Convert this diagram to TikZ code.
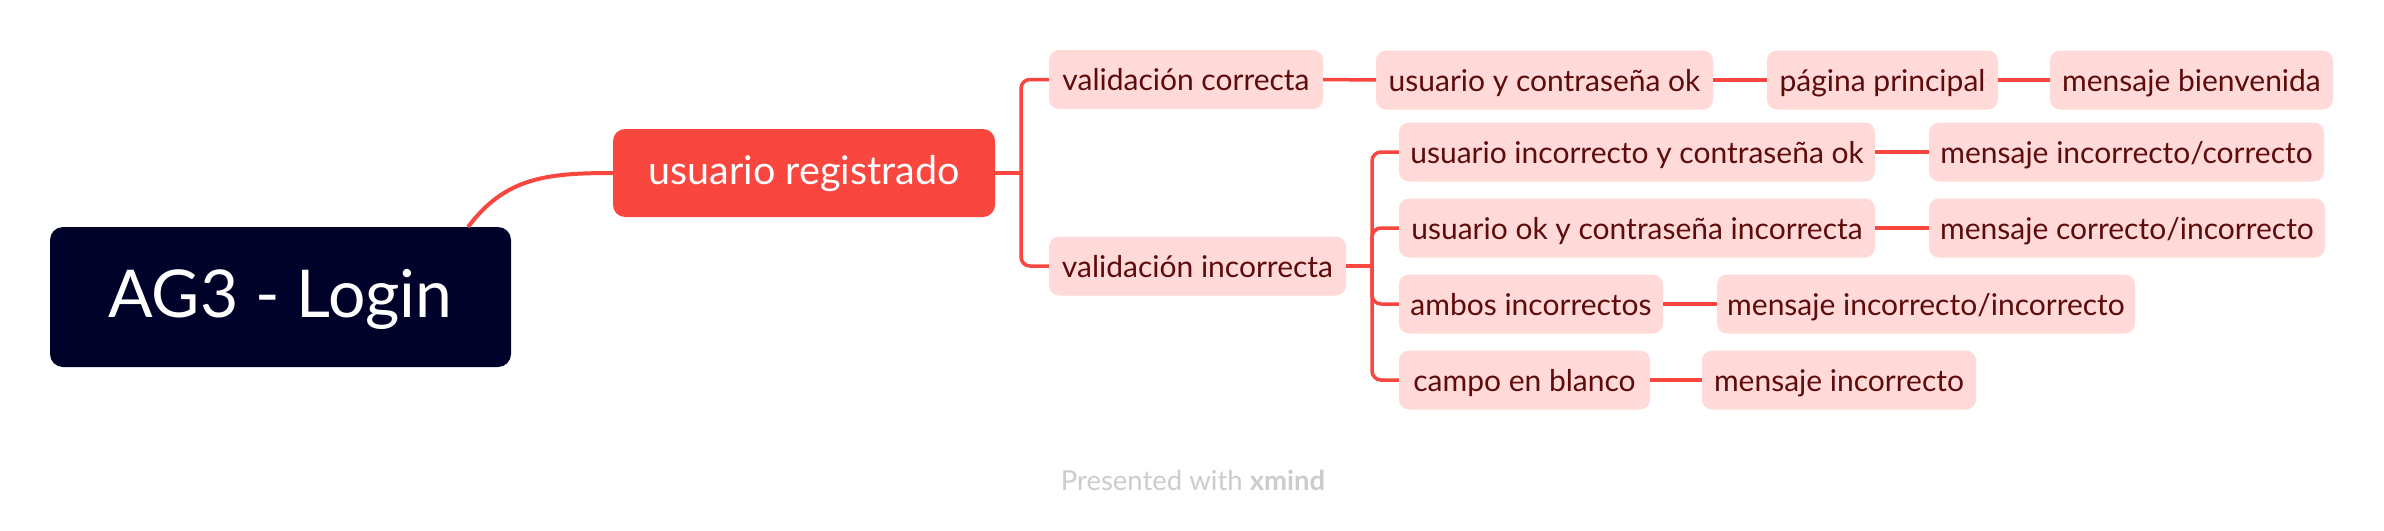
\documentclass[tikz,border=0pt]{standalone}
\usepackage{fontspec}
\setmainfont{Lato}
\definecolor{linecol}{HTML}{F9463F}
\definecolor{redbox}{HTML}{F9463F}
\definecolor{pinkbox}{HTML}{FFDAD8}
\definecolor{darktext}{HTML}{5E0B0B}
\definecolor{navy}{HTML}{00022A}
\definecolor{footgray}{HTML}{CCCCCC}
\tikzset{
  light/.style={rectangle, rounded corners=10pt, fill=pinkbox, text=darktext,
    minimum height=59pt, inner sep=0pt, text height=24pt, text depth=2pt,
    font=\fontsize{30}{34}\selectfont},
  conn/.style={draw=linecol, line width=3.5pt},
}
\begin{document}
\begin{tikzpicture}[x=1pt,y=-1pt]
\useasboundingbox (0,0) rectangle (2384,530);
\fill[white] (0,0) rectangle (2384,530);

% root
\node[rectangle, rounded corners=13pt, fill=navy, text=white, minimum width=461pt,
  minimum height=140pt, inner sep=0pt, text height=44pt, text depth=4pt,
  font=\fontsize{66}{74}\selectfont] (ag) at (280.5,297) {AG3 - Login};

% main topic
\node[rectangle, rounded corners=12pt, fill=redbox, text=white, minimum width=382pt,
  minimum height=88pt, inner sep=0pt, text height=27pt, text depth=4pt,
  font=\fontsize{39.5}{44}\selectfont] (red) at (804,173) {usuario registrado};

% level 2
\node[light, minimum width=274pt] (vc) at (1186,79.5) {validación correcta};
\node[light, minimum width=297pt] (vi) at (1197.5,266) {validación incorrecta};

% row 1
\node[light, minimum width=337pt] (u1) at (1544.5,80) {usuario y contraseña ok};
\node[light, minimum width=231pt] (p1) at (1882.5,80) {página principal};
\node[light, minimum width=283pt] (m1) at (2191.5,80) {mensaje bienvenida};

% incorrect branches
\node[light, minimum width=476pt] (a1) at (1637,152) {usuario incorrecto y contraseña ok};
\node[light, minimum width=395pt] (b1) at (2126.5,152) {mensaje incorrecto/correcto};
\node[light, minimum width=476pt] (a2) at (1637,228) {usuario ok y contraseña incorrecta};
\node[light, minimum width=396pt] (b2) at (2127,228) {mensaje correcto/incorrecto};
\node[light, minimum width=264pt] (a3) at (1531,304) {ambos incorrectos};
\node[light, minimum width=418pt] (b3) at (1926,304) {mensaje incorrecto/incorrecto};
\node[light, minimum width=251pt] (a4) at (1524.5,380) {campo en blanco};
\node[light, minimum width=274pt] (b4) at (1839,380) {mensaje incorrecto};

% connectors
\coordinate (c0) at (468,227);
\draw[conn, line width=4pt] (c0) .. controls (505,178) and (545,173) .. (red.west);

\coordinate (j1) at (1021,173);
\draw[conn] (red.east) -- (j1);
\draw[conn, rounded corners=9pt] (j1) |- (vc.west);
\draw[conn, rounded corners=9pt] (j1) |- (vi.west);

\draw[conn] (vc.east) -- (u1.west);
\draw[conn] (u1.east) -- (p1.west);
\draw[conn] (p1.east) -- (m1.west);

\coordinate (j2) at (1372,266);
\draw[conn] (vi.east) -- (j2);
\draw[conn, rounded corners=9pt] (j2) |- (a1.west);
\draw[conn, rounded corners=9pt] (j2) |- (a2.west);
\draw[conn, rounded corners=9pt] (j2) |- (a3.west);
\draw[conn, rounded corners=9pt] (j2) |- (a4.west);

\draw[conn] (a1.east) -- (b1.west);
\draw[conn] (a2.east) -- (b2.west);
\draw[conn] (a3.east) -- (b3.west);
\draw[conn] (a4.east) -- (b4.west);

% footer
\node[anchor=base, text=footgray, inner sep=0pt, font=\fontsize{27.5}{32}\selectfont]
  (foot) at (1193,490) {Presented with \textbf{xmind}};
\end{tikzpicture}
\end{document}
